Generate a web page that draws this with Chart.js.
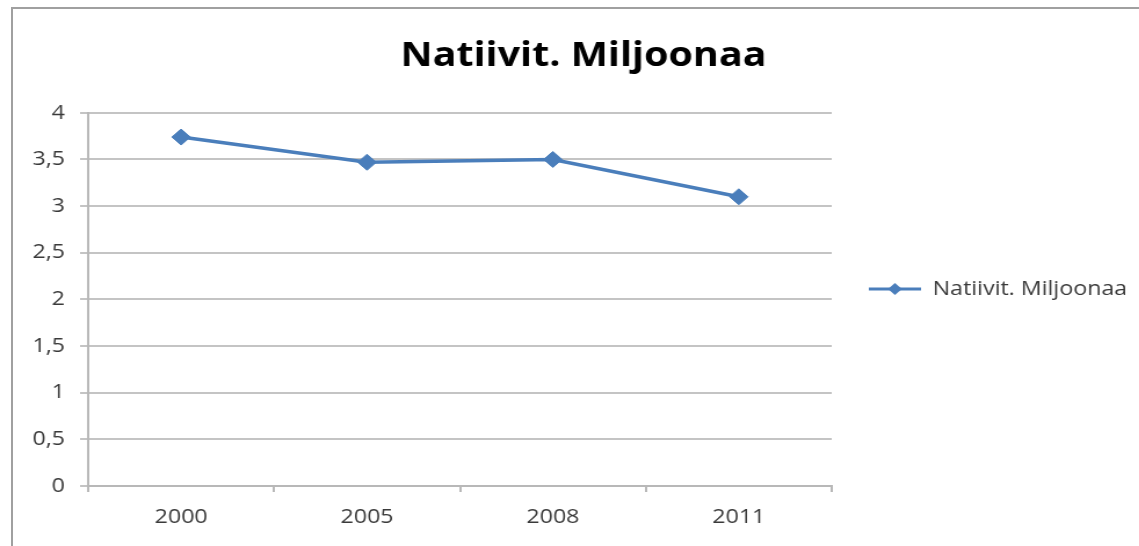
<!DOCTYPE html>
<html><head><meta charset="utf-8">
<script src="https://cdn.jsdelivr.net/npm/chart.js@4.4.1/dist/chart.umd.min.js"></script>
<style>
html,body{margin:0;padding:0;background:#fff;overflow:hidden;}
#frame{position:absolute;left:11px;top:7px;width:1200px;height:600px;border:2px solid #a0a0a0;box-sizing:border-box;}
#wrap{position:absolute;left:0;top:0;width:982px;height:546px;transform:scaleX(1.16);transform-origin:0 0;}
</style></head>
<body>
<div id="frame"></div>
<div id="wrap"><canvas id="c" width="982" height="546"></canvas></div>
<script>
const chartTitle = "Natiivit. Miljoonaa";
const seriesName = "Natiivit. Miljoonaa";
const categories = ["2000", "2005", "2008", "2011"];
const values = [3.74, 3.47, 3.5, 3.1];
const yTicks = [0, 0.5, 1, 1.5, 2, 2.5, 3, 3.5, 4];

const blue = "#4A7EBB";
const textCol = "#3a3a3a";
const fontFam = "'Open Sans', 'DejaVu Sans', sans-serif";

// legend marker: line with a diamond (transparent lead-in on the left)
const mk = document.createElement('canvas');
mk.width = 67; mk.height = 16;
(function(){
  const g = mk.getContext('2d');
  g.strokeStyle = blue; g.lineWidth = 3;
  g.beginPath(); g.moveTo(22,8); g.lineTo(67,8); g.stroke();
  g.fillStyle = blue;
  g.beginPath(); g.moveTo(44.5,2); g.lineTo(50.5,8); g.lineTo(44.5,14); g.lineTo(38.5,8); g.closePath(); g.fill();
})();

// let the right-hand legend take a fixed width (Chart.js caps side boxes otherwise)
const legendWidthPlugin = {
  id: 'legendWidth',
  afterInit(chart) {
    const lg = chart.legend;
    if (!lg) return;
    const orig = lg.fit.bind(lg);
    lg.fit = function() { orig(); this.width = 265; };
  }
};

function build() {
  new Chart(document.getElementById('c'), {
    type: 'line',
    plugins: [legendWidthPlugin],
    data: {
      labels: categories,
      datasets: [{
        label: seriesName,
        data: values,
        borderColor: blue,
        backgroundColor: blue,
        borderWidth: 3.5,
        pointStyle: 'rectRot',
        pointRadius: 8,
        pointHoverRadius: 8,
        pointBorderWidth: 1,
        tension: 0
      }]
    },
    options: {
      responsive: false,
      animation: false,
      layout: { padding: { left: 24, right: 0, top: 36, bottom: 4 } },
      plugins: {
        title: {
          display: true,
          text: chartTitle,
          color: '#000',
          font: { family: fontFam, size: 34, weight: 'bold' },
          padding: { top: 0, bottom: 36 }
        },
        legend: {
          position: 'right',
          labels: {
            usePointStyle: true,
            pointStyle: mk,
            pointStyleWidth: 67,
            color: textCol,
            font: { family: fontFam, size: 20 },
            padding: 10
          }
        },
        tooltip: { enabled: false }
      },
      scales: {
        x: {
          offset: true,
          grid: { display: true, drawOnChartArea: false, drawTicks: true, tickLength: 6, color: '#b8b8b8', lineWidth: 2, offset: true },
          border: { display: true, color: '#b8b8b8', width: 2 },
          ticks: { color: textCol, font: { family: fontFam, size: 20 }, padding: 13 }
        },
        y: {
          min: 0, max: 4,
          afterFit: s => { s.width = 52; },
          afterBuildTicks: s => { s.ticks = yTicks.map(v => ({ value: v })); },
          grid: { color: '#c4c4c4', lineWidth: 2, tickLength: 7 },
          border: { display: true, color: '#b8b8b8', width: 2 },
          ticks: {
            color: textCol, font: { family: fontFam, size: 20 }, padding: 13,
            callback: v => String(v).replace('.', ',')
          }
        }
      }
    }
  });
}

Promise.all([
  document.fonts.load('20px "Open Sans"'),
  document.fonts.load('bold 34px "Open Sans"')
]).then(build, build);
</script>
</body></html>
